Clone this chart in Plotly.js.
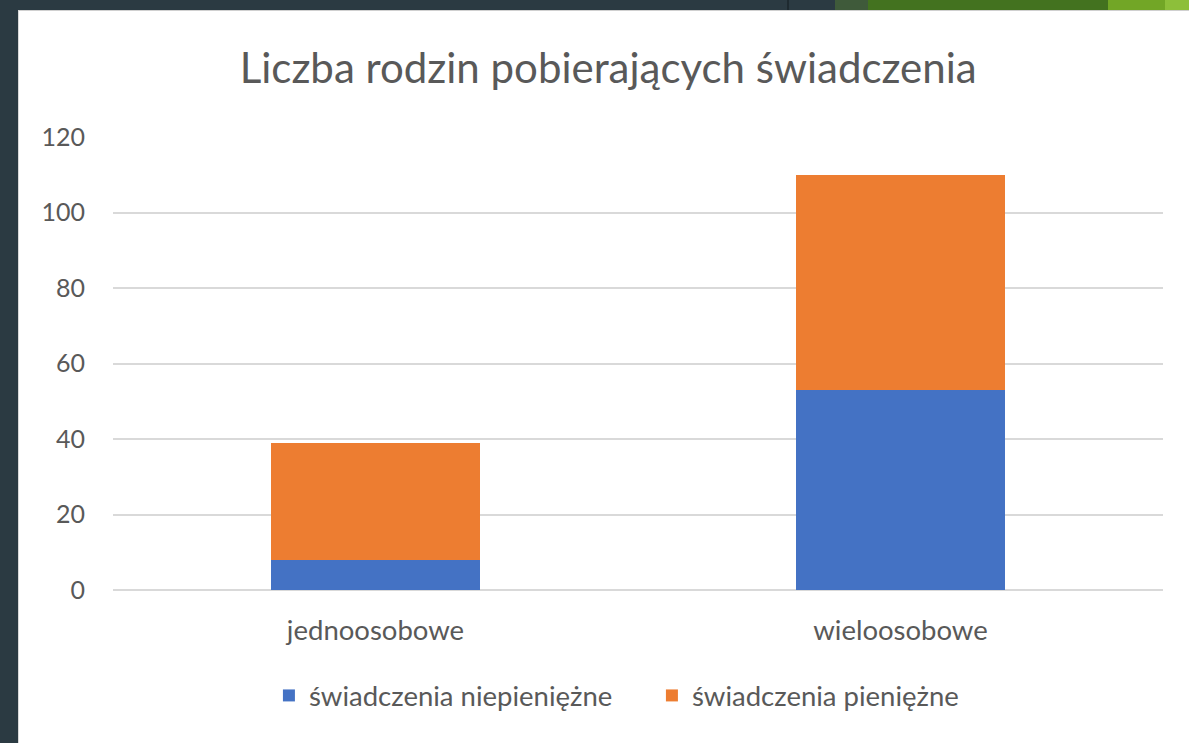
<!DOCTYPE html>
<html>
<head>
<meta charset="utf-8">
<script src="https://cdn.plot.ly/plotly-3.0.1.min.js"></script>
<style>
  html, body { margin: 0; padding: 0; width: 1189px; height: 743px; overflow: hidden; background: #2B3A42; position: relative; }
  .deco { position: absolute; top: 0; height: 10px; }
  #chart { position: absolute; left: 18px; top: 10px; width: 1171px; height: 733px; background: #ffffff; }
  #topline { position: absolute; left: 18px; top: 10px; width: 1171px; height: 1px; background: #D0D0D0; z-index: 2; }
  #leftline { position: absolute; left: 18px; top: 10px; width: 1px; height: 733px; background: #D8D8D8; z-index: 2; }
</style>
</head>
<body>
<div class="deco" style="left:787px;width:2px;background:#1E2A30;"></div>
<div class="deco" style="left:835px;width:34px;background:#3F5A3A;"></div>
<div class="deco" style="left:868px;width:241px;background:#43721F;"></div>
<div class="deco" style="left:1108px;width:58px;background:#72A626;"></div>
<div class="deco" style="left:1165px;width:24px;background:#8DBF3A;"></div>
<div id="chart"></div>
<div id="topline"></div>
<div id="leftline"></div>
<script>
const categories = ["jednoosobowe", "wieloosobowe"];
const seriesNames = ["świadczenia niepieniężne", "świadczenia pieniężne"];
const niepieniezne = [8, 53];
const pieniezne = [31, 57];
const yTicks = [0, 20, 40, 60, 80, 100, 120];
const chartTitle = "Liczba rodzin pobierających świadczenia";

const FONT = "Lato, 'Open Sans', sans-serif";
const GREY = "#595959";

const traces = [
  { type: "bar", x: categories, y: niepieniezne, name: seriesNames[0],
    marker: { color: "#4472C4", line: { width: 0 } } },
  { type: "bar", x: categories, y: pieniezne, name: seriesNames[1],
    marker: { color: "#ED7D31", line: { width: 0 } } }
];

const layout = {
  width: 1171, height: 733,
  barmode: "stack",
  bargap: 0.603,
  paper_bgcolor: "#ffffff",
  plot_bgcolor: "#ffffff",
  margin: { l: 95, r: 26, t: 127, b: 153, pad: 0 },
  font: { family: FONT, color: GREY, size: 25 },
  title: {
    text: chartTitle,
    font: { family: FONT, size: 42, color: GREY },
    x: 0.5040, xanchor: "center", xref: "container",
    y: 0.920, yanchor: "middle", yref: "container"
  },
  xaxis: {
    type: "category",
    showgrid: false, zeroline: false, showline: false,
    ticks: "outside", ticklen: 16, tickcolor: "rgba(0,0,0,0)",
    tickfont: { family: FONT, size: 27.5, color: GREY }
  },
  yaxis: {
    range: [0, 120],
    tickvals: yTicks,
    ticktext: yTicks.map(String),
    showgrid: true, gridcolor: "#D9D9D9", gridwidth: 2,
    zeroline: true, zerolinecolor: "#D9D9D9", zerolinewidth: 2,
    showline: false,
    ticks: "outside", ticklen: 22, tickcolor: "rgba(0,0,0,0)",
    tickfont: { family: FONT, size: 25, color: GREY }
  },
  showlegend: true,
  legend: {
    orientation: "h",
    x: 0.1485, xanchor: "left",
    y: -0.233, yanchor: "middle",
    entrywidth: 338, entrywidthmode: "pixels",
    font: { family: FONT, size: 27.5, color: GREY },
    traceorder: "normal",
    itemclick: false
  }
};

Plotly.newPlot("chart", traces, layout, { staticPlot: true, displayModeBar: false });
</script>
</body>
</html>
